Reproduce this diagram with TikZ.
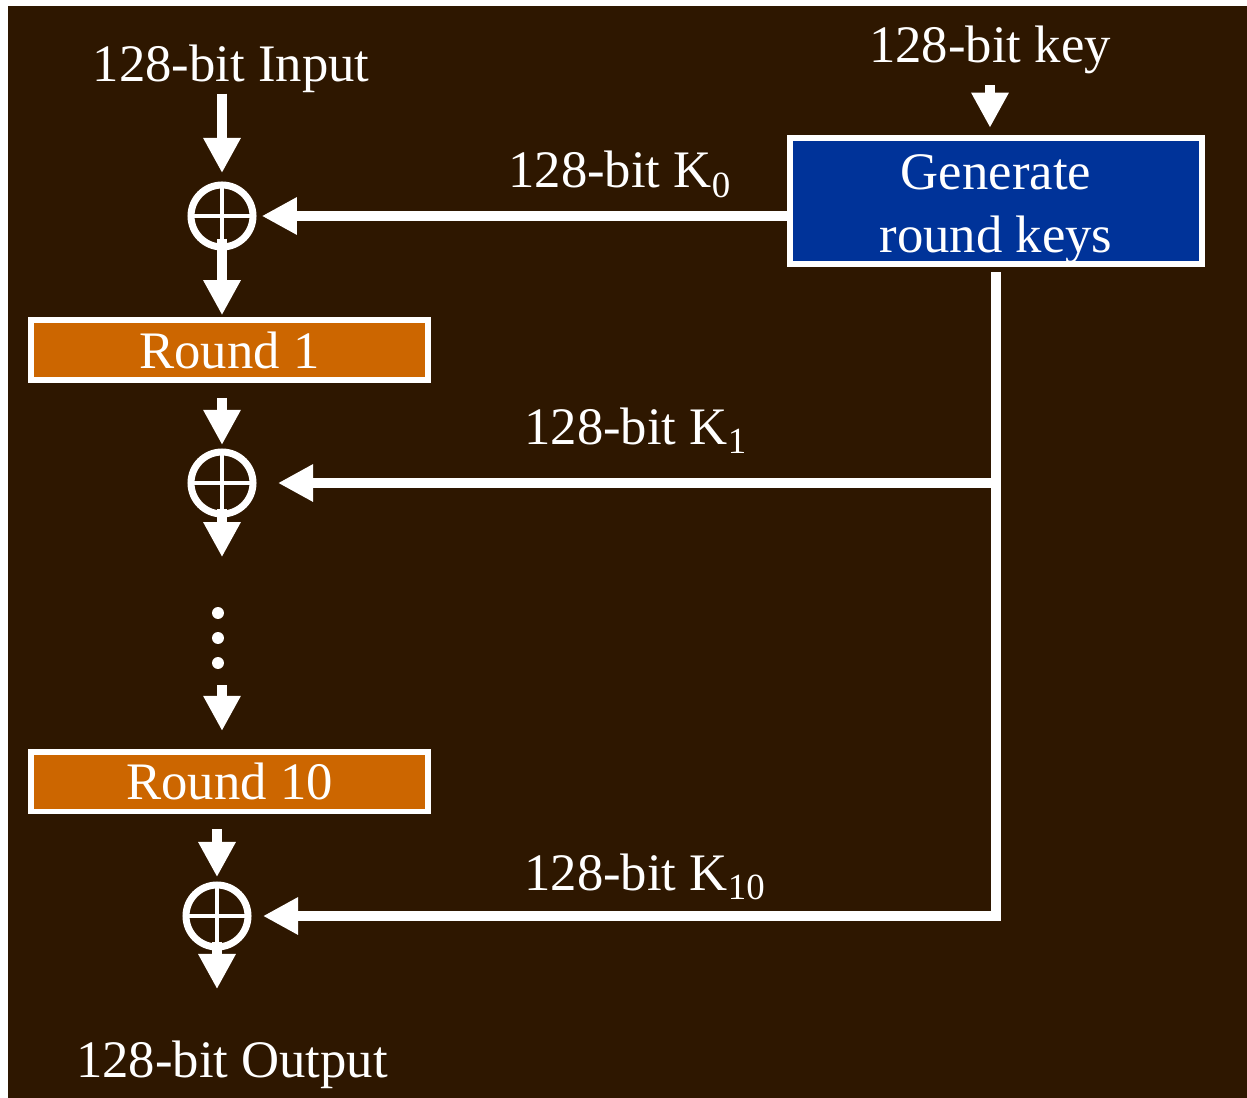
\documentclass[tikz,border=0pt]{standalone}
\usepackage{fontspec}
\setmainfont{Liberation Serif}
\usepackage{xcolor}
\usetikzlibrary{arrows.meta,calc}
\definecolor{bgbrown}{RGB}{46,23,0}
\definecolor{roundorange}{RGB}{204,102,0}
\definecolor{keyblue}{RGB}{0,51,153}
\tikzset{
  lbl/.style={text=white, inner sep=0pt, font=\fontsize{30}{36}\selectfont},
  roundbox/.style={draw=white, fill=roundorange, line width=3.4pt, text=white, minimum width=7.94cm, minimum height=1.2cm, inner sep=0pt, font=\fontsize{30}{36}\selectfont},
  keybox/.style={draw=white, fill=keyblue, line width=3.4pt, text=white, align=center, minimum width=8.24cm, minimum height=2.44cm, inner sep=0pt, font=\fontsize{30}{36}\selectfont},
  xorop/.style={circle, draw=white, line width=4pt, minimum size=1.24cm, inner sep=0pt,
    path picture={\draw[white, line width=2.8pt] (path picture bounding box.north) -- (path picture bounding box.south)
      (path picture bounding box.west) -- (path picture bounding box.east);}},
  flowarrow/.style={draw=white, line width=5.7pt, -{Triangle[length=20pt,width=20pt]}}
}
\begin{document}
\begin{tikzpicture}[x=0.02cm, y=-0.02cm]
\fill[white] (0,0) rectangle (1247,1098);
\fill[bgbrown] (8,6) rectangle (1247,1098);
% data path
\node[lbl, anchor=base] (input) at (231,82) {128-bit Input};
\node[xorop] (xor1) at (222,216) {};
\node[roundbox] (round1) at (229.5,350) {Round 1};
\node[xorop] (xor2) at (222,483) {};
\coordinate (vdots) at (218,638);
\node[roundbox] (round10) at (229.5,781.5) {Round 10};
\node[xorop] (xor3) at (217,916) {};
\node[lbl, anchor=base] (output) at (232,1077) {128-bit Output};
% key schedule
\node[lbl, anchor=base] (keyin) at (990,63) {128-bit key};
\node[keybox] (genbox) at (996,201) {\rule{0pt}{29.5pt}Generate\\round keys};
\node[lbl, anchor=base west] (kzero) at (508,188) {128-bit K\textsubscript{0}};
\node[lbl, anchor=base west] (kone) at (524,444) {128-bit K\textsubscript{1}};
\node[lbl, anchor=base west] (kten) at (524,890) {128-bit K\textsubscript{10}};
\foreach \dy in {-25,0,25}
  \fill[white] ($(vdots)+(0,\dy)$) circle (3.4pt);
\draw[flowarrow, shorten >=4.8pt] (input.south -| xor1) -- (xor1);
\draw[flowarrow, shorten <=13pt, shorten >=1pt] (xor1.center) -- (xor1 |- round1.north);
\draw[flowarrow, shorten <=8.5pt, shorten >=2pt] (round1.south -| xor2) -- (xor2);
\draw[flowarrow, shorten <=14.7pt, shorten >=46pt] (xor2.center) -- (xor2 |- vdots);
\draw[flowarrow, shorten <=27pt, shorten >=10pt] (xor2 |- vdots) -- (xor2 |- round10.north);
\draw[flowarrow, shorten <=8.5pt, shorten >=2.5pt] (round10.south -| xor3) -- (xor3);
\draw[flowarrow, shorten <=14.7pt, shorten >=29pt] (xor3.center) -- (xor3 |- output.north);
\draw[flowarrow, shorten <=6pt, shorten >=4pt] (keyin.south) -- (keyin.south |- genbox.north);
\draw[flowarrow, shorten >=3pt] (genbox.west |- xor1) -- (xor1.east);
\draw[flowarrow, shorten <=2.8pt, shorten >=6.5pt] (genbox.south) |- (xor3.east);
\draw[flowarrow, shorten >=12.2pt] (genbox.south |- xor2) -- (xor2.east);
\end{tikzpicture}
\end{document}
